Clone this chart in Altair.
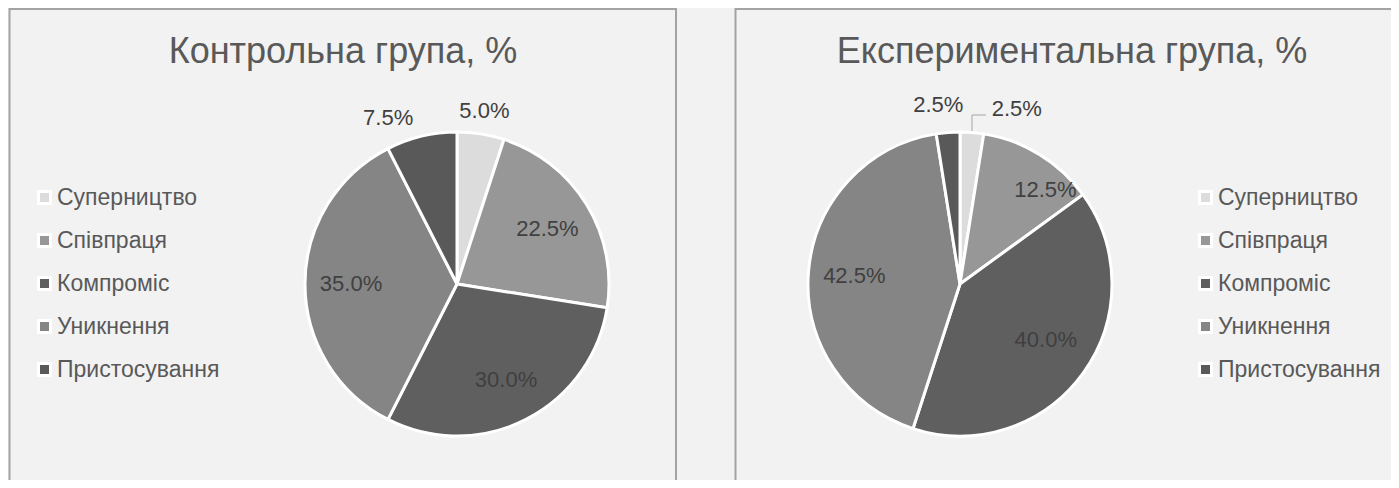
import altair as alt
import pandas as pd

# ---------------- data ----------------
categories = ["Суперництво", "Співпраця", "Компроміс", "Уникнення", "Пристосування"]
control_values = [5.0, 22.5, 30.0, 35.0, 7.5]
experimental_values = [2.5, 12.5, 40.0, 42.5, 2.5]
titles = ["Контрольна група, %", "Експериментальна група, %"]

# ---------------- style ----------------
colors = ["#dcdcdc", "#979797", "#5f5f5f", "#858585", "#595959"]
FONT = "Liberation Sans"
W, H = 1383, 472
R = 152
BG = "#f2f2f2"


def frame(values):
    return pd.DataFrame({"category": categories, "value": values,
                         "idx": list(range(len(categories)))})


def pie(values, cx, cy, title, title_x, legend_x, placement):
    df = frame(values)
    base = alt.Chart(df)
    arc = base.mark_arc(radius=R, stroke="white", strokeWidth=3).encode(
        theta=alt.Theta("value:Q", stack=True, scale=alt.Scale(domain=[0, 100])),
        color=alt.Color("category:N", sort=categories,
                        scale=alt.Scale(domain=categories, range=colors),
                        legend=alt.Legend(orient="none", legendX=legend_x, legendY=178,
                                          title=None)),
        order=alt.Order("idx:Q"),
        x=alt.value(cx), y=alt.value(cy),
    )
    lab_base = base.transform_window(
        cum="sum(value)", sort=[alt.SortField("idx")]
    ).transform_calculate(
        mid="datum.cum - datum.value / 2",
        lbl="format(datum.value, '.1f') + '%'",
    )
    layers = [arc]
    for cat, (r, dx, dy) in placement.items():
        layers.append(
            lab_base.transform_filter(alt.datum.category == cat)
            .mark_text(radius=r, dx=dx, dy=dy, font=FONT, fontSize=22,
                       color="#404040", align="center", baseline="middle")
            .encode(
                theta=alt.Theta("mid:Q", stack=None, scale=alt.Scale(domain=[0, 100])),
                text="lbl:N",
                x=alt.value(cx), y=alt.value(cy),
            )
        )
    ttl = alt.Chart(pd.DataFrame({"t": [title]})).mark_text(
        font=FONT, fontSize=36, color="#595959", align="center", baseline="alphabetic"
    ).encode(text="t:N", x=alt.value(title_x), y=alt.value(55))
    layers.append(ttl)
    return layers


# label placement: (radius, dx, dy)
control_place = {
    "Суперництво": (175, 0, 0),
    "Співпраця": (106, 0, 0),
    "Компроміс": (108, 0, 0),
    "Уникнення": (106, 0, 0),
    "Пристосування": (175, -28, 4),
}
exp_place = {
    "Суперництво": (175, 43, -1),
    "Співпраця": (106, 30, -4),
    "Компроміс": (106, 0, -6),
    "Уникнення": (106, 0, 0),
    "Пристосування": (175, -8, -5),
}

frames_df = pd.DataFrame({"k": [0]})
box_left = alt.Chart(frames_df).mark_rect(filled=False, stroke="#a3a3a3", strokeWidth=2).encode(
    x=alt.value(1.5), x2=alt.value(668), y=alt.value(1), y2=alt.value(700))
box_right = alt.Chart(frames_df).mark_rect(filled=False, stroke="#a3a3a3", strokeWidth=2).encode(
    x=alt.value(727.5), x2=alt.value(1600), y=alt.value(1), y2=alt.value(700))

leader_v = alt.Chart(frames_df).mark_rule(color="#a6a6a6", strokeWidth=1).encode(
    x=alt.value(964), y=alt.value(123), y2=alt.value(107))
leader_h = alt.Chart(frames_df).mark_rule(color="#a6a6a6", strokeWidth=1).encode(
    x=alt.value(964), x2=alt.value(978), y=alt.value(107))

left_layers = pie(control_values, 449, 276, titles[0], 335, 25, control_place)
right_layers = pie(experimental_values, 952, 276, titles[1], 1064, 1186, exp_place)

chart = alt.layer(
    box_left, box_right, *left_layers, *right_layers, leader_v, leader_h
).resolve_scale(color="independent").properties(
    width=W, height=H, padding=0, autosize=alt.AutoSizeParams(type="none"),
    background=BG,
).configure_view(strokeWidth=0).configure_legend(
    labelFont=FONT, labelFontSize=23, labelColor="#595959", labelOffset=1,
    symbolType="square", symbolSize=144, symbolStrokeColor="white",
    symbolStrokeWidth=3, rowPadding=18, padding=0, symbolOpacity=1,
    labelLimit=400,
)

chart.save("out.html", embed_options={"renderer": "svg", "actions": False})
